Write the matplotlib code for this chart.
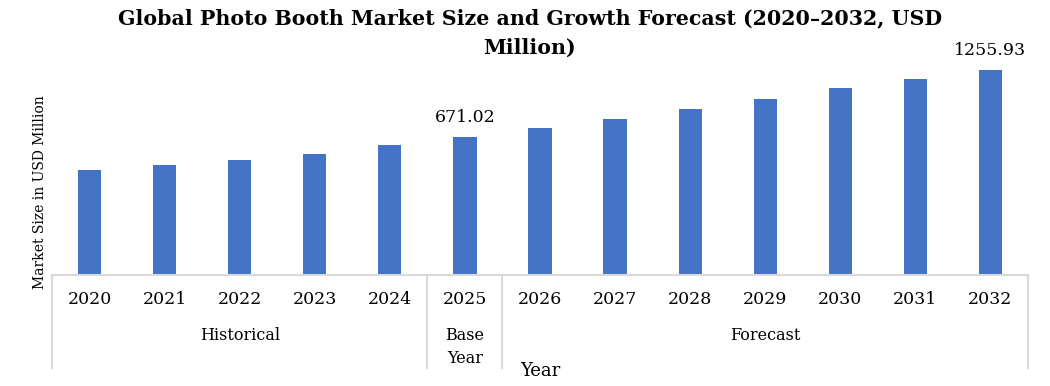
import matplotlib
matplotlib.use("Agg")
import matplotlib.pyplot as plt
from matplotlib.lines import Line2D

years = ["2020", "2021", "2022", "2023", "2024", "2025", "2026",
         "2027", "2028", "2029", "2030", "2031", "2032"]
values = [383, 427, 470, 523, 601, 671.02, 750, 828, 916, 1003, 1099, 1177, 1255.93]
groups = ["Historical", "Base\nYear", "Forecast"]
group_sizes = [5, 1, 7]
labelled = {5: "671.02", 12: "1255.93"}

title = "Global Photo Booth Market Size and Growth Forecast (2020\u20132032, USD\nMillion)"
ylabel = "Market Size in USD Million"
xlabel = "Year"

BAR = "#4472C4"
GRID = "#D9D9D9"
FONT = "DejaVu Serif"

W, H = 1050, 386
fig = plt.figure(figsize=(W / 100, H / 100), dpi=100)
plt.rcParams["font.family"] = FONT

# axes in pixel coordinates
ax_left, ax_right = 52, 1028
ax_bottom_px, ax_top_px = 275, 55
ax = fig.add_axes([ax_left / W, 1 - ax_bottom_px / H,
                   (ax_right - ax_left) / W, (ax_bottom_px - ax_top_px) / H])

ymin = -533.7
per_px = 8.73
ymax = ymin + per_px * (ax_bottom_px - ax_top_px)

n = len(years)
x = list(range(n))
ax.bar(x, [v - ymin for v in values], bottom=ymin, width=0.31, color=BAR, zorder=2)
ax.set_xlim(-0.5, n - 0.5)
ax.set_ylim(ymin, ymax)
for s in ax.spines.values():
    s.set_visible(False)
ax.set_xticks([])
ax.set_yticks([])

for i, lab in labelled.items():
    ax.annotate(lab, (i, values[i]), xytext=(0, 8), textcoords="offset points",
                ha="center", va="bottom", fontsize=12.5, family=FONT)

# category axis (drawn in pixel space)
def fx(px):
    return px / W

def fy(py):
    return 1 - py / H

fig.add_artist(Line2D([fx(ax_left), fx(ax_right)], [fy(275), fy(275)],
                      color=GRID, lw=1.5))
unit = (ax_right - ax_left) / n
bounds = [0]
for g in group_sizes:
    bounds.append(bounds[-1] + g)
for b in bounds:
    xp = ax_left + b * unit
    fig.add_artist(Line2D([fx(xp), fx(xp)], [fy(275), fy(368)], color=GRID, lw=1.5))

for i, yr in enumerate(years):
    xp = ax_left + (i + 0.5) * unit
    fig.text(fx(xp), fy(300), yr, ha="center", va="center", fontsize=12.5)

for gi, g in enumerate(groups):
    xc = ax_left + (bounds[gi] + bounds[gi + 1]) / 2 * unit
    if "\n" in g:
        fig.text(fx(xc), fy(327), g, ha="center", va="top", fontsize=11.5,
                 linespacing=1.45)
    else:
        fig.text(fx(xc), fy(336), g, ha="center", va="center", fontsize=11.5)

fig.text(fx(540), fy(371), xlabel, ha="center", va="center", fontsize=13)
fig.text(fx(40), fy(192), ylabel, ha="center", va="center", rotation=90, fontsize=10)
fig.text(fx(530), fy(33), title, ha="center", va="center", fontsize=14.8,
         fontweight="bold", linespacing=1.6)

fig.savefig("out.png", dpi=100)
